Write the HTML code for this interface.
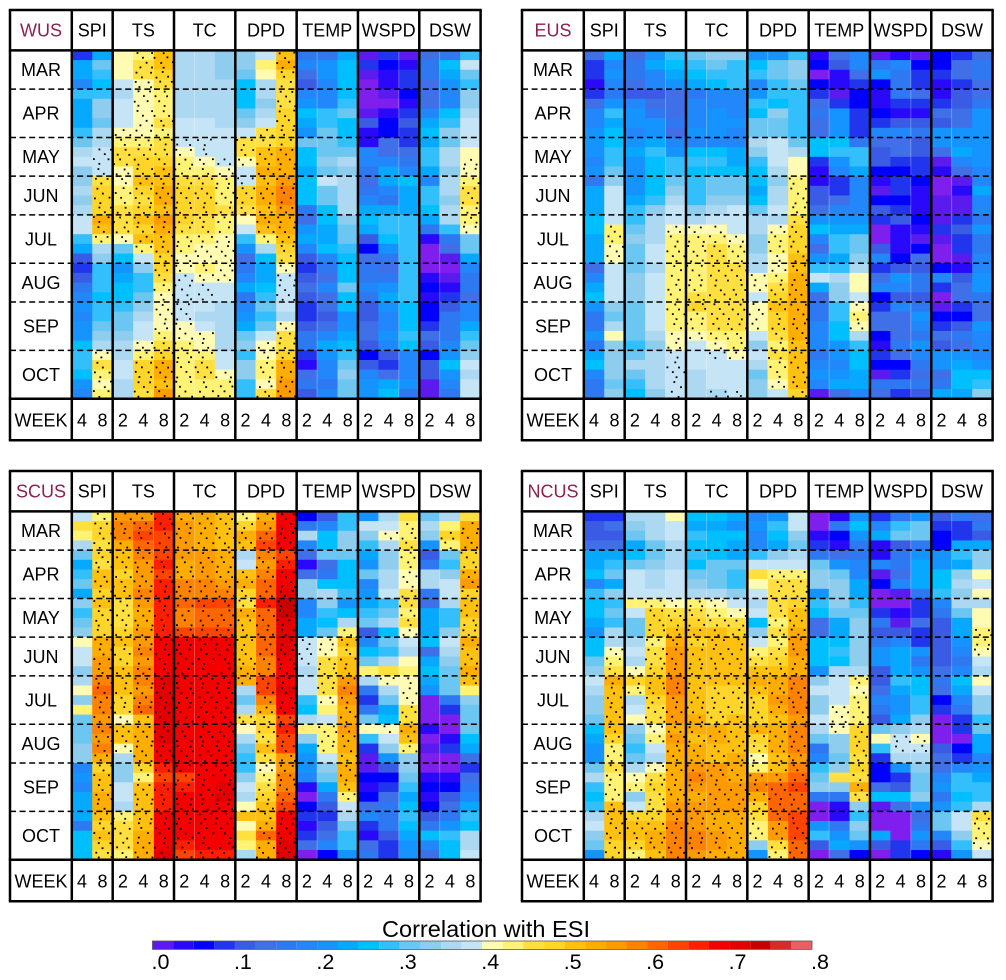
<!DOCTYPE html>
<html lang="en">
<head>
<meta charset="utf-8">
<title>Correlation with ESI</title>
<style>
html,body{margin:0;padding:0;background:#fff;}
svg{display:block;font-family:"Liberation Sans",sans-serif;}
</style>
</head>
<body>
<svg id="chart" xmlns="http://www.w3.org/2000/svg" width="1006" height="980" viewBox="0 0 1006 980"></svg>
<script>
/* Values are colour-bin levels of the correlation: level L means [L*0.025, (L+1)*0.025); -1 is below zero. */
const months = ["MAR","APR","MAY","JUN","JUL","AUG","SEP","OCT"];
const monthWeeks = [4,5,4,4,5,4,5,5];
const variables = ["SPI","TS","TC","DPD","TEMP","WSPD","DSW"];
const variableLeads = [[4,8],[2,4,8],[2,4,8],[2,4,8],[2,4,8],[2,4,8],[2,4,8]];
const colorbarTicks = [".0",".1",".2",".3",".4",".5",".6",".7",".8"];

const wusValues = [
[3,9,9,7,11,9,9,9,11,12,14,15,13,13,14,13,14,15,15,11,9,4,3,4,6,7,8,7,8,8,10,11,11,10,8,7],
[9,12,11,10,11,13,13,12,14,14,15,15,15,18,19,19,19,21,20,17,14,13,11,11,11,10,11,11,12,13,14,16,18,17,16,17],
[16,16,16,15,14,15,15,15,16,17,18,18,16,16,17,17,18,18,18,16,12,10,8,9,10,10,11,12,12,13,14,14,15,15,14,14],
[17,18,18,16,16,16,16,16,16,17,18,19,19,20,19,18,19,20,19,20,17,15,13,11,11,12,13,14,15,15,16,17,19,19,19,18],
[20,20,19,18,17,17,17,18,17,18,18,19,20,20,21,21,20,22,21,20,20,19,19,18,17,16,16,16,16,17,18,19,21,21,20,22],
[14,14,14,14,14,14,14,15,15,15,16,17,17,18,19,19,19,19,18,17,17,16,16,15,15,15,15,15,16,16,17,17,17,17,17,17],
[14,14,14,14,14,14,14,15,15,15,15,16,17,18,19,19,19,18,18,17,16,16,17,16,15,15,15,14,15,16,16,17,18,18,17,17],
[13,13,13,14,14,14,14,14,15,15,15,15,16,17,17,17,18,17,17,16,16,16,16,16,15,15,14,14,14,14,14,15,15,16,17,17],
[13,13,12,10,10,10,12,13,15,18,18,16,15,15,19,19,18,16,15,11,8,5,6,7,9,6,7,8,9,12,13,11,13,13,11,11],
[15,17,16,14,14,13,14,15,18,18,20,20,21,20,21,21,20,21,20,17,14,10,9,9,10,11,12,11,12,15,16,16,17,17,16,18],
[20,21,19,18,18,18,19,19,19,19,21,21,21,22,23,23,22,21,21,20,19,18,16,15,15,15,15,14,16,18,18,19,21,21,22,22],
[6,7,5,4,7,8,10,9,8,12,10,10,9,10,10,10,6,5,8,9,7,4,3,4,5,4,3,3,4,6,6,3,1,5,6,4],
[6,8,8,7,7,7,11,11,12,12,12,13,12,15,12,12,10,10,9,9,10,7,6,5,7,5,5,4,5,7,9,8,7,7,6,7],
[9,10,10,10,10,11,12,10,10,11,12,14,13,14,14,14,14,13,12,12,11,10,10,10,12,10,10,8,8,9,10,11,12,13,12,12],
[0,3,0,-1,-1,-1,0,4,1,1,7,7,6,5,6,7,9,10,9,4,2,5,6,6,7,6,4,4,5,5,4,2,4,7,8,8],
[3,2,1,1,0,-1,1,2,2,5,5,7,9,9,7,6,9,11,11,10,8,6,5,6,8,9,8,7,7,8,7,4,3,5,9,10],
[0,1,3,3,2,1,3,4,3,3,5,6,7,10,9,9,9,11,11,11,11,11,11,11,11,11,10,10,10,11,10,7,7,7,8,6],
[5,6,6,5,5,5,7,9,10,9,11,11,9,7,11,11,10,9,6,1,-1,-1,-1,1,2,1,2,2,3,5,4,2,4,4,0,0],
[6,10,9,8,7,7,10,11,13,12,14,14,13,14,14,13,14,14,11,6,5,0,-1,0,1,3,4,6,6,6,7,8,10,8,7,6],
[11,15,12,11,13,13,14,15,15,15,16,16,16,17,18,18,17,17,16,12,12,9,7,6,6,5,7,7,9,11,12,13,15,14,15,15]
];
const eusValues = [
[5,3,3,1,3,5,7,7,8,8,8,7,8,6,9,9,9,10,10,9,9,9,5,7,9,10,8,6,6,8,6,9,10,7,6,6],
[9,7,8,7,6,8,11,9,10,10,11,11,12,13,15,15,15,15,17,17,16,16,15,15,15,15,13,12,14,16,13,13,13,13,12,13],
[5,6,6,5,4,7,8,8,7,8,9,8,8,8,8,9,11,11,12,13,12,12,12,13,13,13,12,12,12,12,11,12,14,12,11,10],
[8,9,7,7,4,5,6,8,8,9,11,10,10,10,10,11,13,14,14,14,15,15,14,15,15,15,15,15,15,14,13,14,14,14,14,13],
[11,10,9,8,5,5,5,6,5,7,8,11,11,12,13,14,15,15,16,17,17,17,17,17,17,17,17,17,17,16,16,15,15,15,15,15],
[12,11,10,9,6,7,7,7,8,7,10,11,10,11,11,11,13,14,16,17,17,17,17,17,17,18,19,17,17,16,15,15,15,14,14,14],
[13,12,11,10,7,7,8,8,8,7,10,11,10,12,12,13,14,15,16,17,18,18,18,18,18,18,18,18,18,17,16,15,15,15,15,14],
[13,11,11,11,7,7,7,8,7,7,9,9,10,12,12,13,15,15,15,16,17,17,18,18,18,18,18,18,18,17,17,16,15,15,15,15],
[8,10,11,7,8,11,10,12,12,14,13,11,10,10,9,10,12,14,14,13,13,14,14,16,16,15,16,16,16,15,13,15,14,12,13,13],
[8,12,12,11,11,10,13,12,12,15,15,15,14,13,14,14,15,14,16,17,17,16,16,17,18,19,20,19,19,18,17,18,17,17,16,15],
[11,13,13,12,11,11,11,11,11,12,14,16,16,17,17,17,17,18,19,19,19,20,20,21,21,21,21,21,21,21,20,20,20,20,20,19],
[1,2,-1,2,3,5,6,5,5,10,10,3,1,1,4,4,5,8,10,7,5,8,11,15,9,5,6,6,7,7,7,6,7,8,7,0],
[5,4,1,1,0,3,8,8,8,10,11,8,7,3,3,5,7,8,9,11,11,9,11,14,13,13,11,11,10,10,8,8,7,8,9,5],
[7,7,5,3,2,2,3,3,3,6,11,11,9,7,7,7,7,8,9,12,12,13,14,16,16,15,16,17,16,14,11,10,10,9,9,7],
[0,6,8,2,1,1,2,3,7,5,4,4,2,1,0,2,4,3,-1,-1,4,7,3,5,7,2,3,5,5,2,1,3,2,0,6,5],
[1,7,6,6,6,3,1,4,7,5,5,3,2,3,3,2,3,4,1,1,1,2,4,8,7,4,7,5,5,5,6,5,2,3,6,3],
[0,2,3,3,5,3,1,4,6,4,4,3,3,2,1,1,1,2,1,0,2,5,4,6,6,4,6,8,7,6,8,7,6,5,6,4],
[2,2,3,1,1,3,5,4,8,8,5,0,1,-1,-1,0,0,0,3,0,-1,-1,2,7,3,-1,0,2,3,5,4,8,8,5,6,9],
[3,5,5,3,4,4,5,5,8,8,9,7,5,0,1,0,0,3,4,3,3,0,1,4,5,5,3,2,4,6,5,8,9,10,10,9],
[5,6,6,5,5,6,8,8,8,8,8,8,7,7,9,7,7,6,8,6,6,7,7,8,8,6,5,5,8,7,7,7,8,10,11,13]
];
const scusValues = [
[15,18,17,14,12,9,11,12,9,13,11,12,13,16,15,15,13,14,16,13,17,12,12,12,13,13,7,8,7,9,9,9,6,10,10,10],
[17,19,19,18,19,18,20,20,19,20,19,19,19,21,21,22,22,23,24,23,23,22,23,22,23,21,19,20,20,21,21,20,19,20,19,18],
[22,23,23,21,20,20,19,20,20,18,18,18,19,20,19,19,20,20,20,19,19,16,20,20,16,14,13,13,15,15,14,17,18,18,18,17],
[22,24,25,24,23,22,22,22,23,22,21,21,22,22,23,22,23,23,22,23,24,20,21,21,21,21,19,17,20,20,20,20,20,21,21,21],
[26,26,25,25,25,26,25,26,26,26,26,26,26,27,27,27,27,28,28,28,28,28,28,28,27,27,26,25,26,26,26,27,27,27,27,28],
[21,22,22,22,22,21,21,23,23,24,23,23,25,27,27,27,27,27,27,27,27,27,27,27,27,27,27,25,26,27,27,27,27,27,26,25],
[21,21,21,21,22,22,22,23,23,25,24,24,25,27,27,27,27,27,27,27,27,27,27,27,27,27,27,27,27,27,27,27,27,27,27,26],
[20,20,20,20,21,21,21,22,23,25,24,24,25,27,27,27,27,27,27,27,27,27,27,27,27,27,27,27,28,28,27,27,27,27,27,26],
[17,19,21,20,14,15,20,21,19,18,21,20,20,20,20,20,21,21,14,12,14,18,16,14,12,11,11,13,15,14,16,20,16,18,17,14],
[21,22,24,25,23,22,23,24,24,26,24,24,24,24,24,23,23,25,25,23,21,19,19,18,20,18,16,17,18,19,20,20,21,24,21,21],
[27,27,27,27,25,26,27,27,28,29,29,28,28,28,28,27,27,27,28,27,27,25,26,25,25,22,22,23,23,24,25,27,27,27,28,28],
[2,6,14,7,5,1,5,13,13,7,7,9,9,15,15,15,14,15,15,11,10,14,17,13,9,8,8,7,1,-1,2,3,1,3,5,-1],
[4,7,10,10,12,5,6,10,14,13,11,10,12,16,16,18,18,18,18,16,17,15,17,17,17,15,13,12,9,6,4,3,4,5,7,2],
[11,11,13,13,12,10,10,10,11,8,10,14,17,20,19,20,20,22,23,22,21,21,22,21,21,20,21,21,20,17,15,14,12,11,11,8],
[8,15,13,11,9,8,12,7,8,9,11,12,4,7,10,12,17,14,6,3,6,12,16,11,3,0,0,2,1,2,5,7,3,1,5,6],
[14,15,16,14,13,13,14,14,15,11,12,14,10,12,11,14,18,16,14,12,9,10,16,15,13,8,4,2,3,5,6,6,6,4,3,3],
[18,17,17,18,17,17,16,16,18,18,17,18,16,15,14,16,17,16,16,16,18,18,21,20,17,13,13,12,11,9,10,11,10,9,8,8],
[12,14,13,8,4,6,14,14,6,5,9,9,9,10,5,9,10,9,8,-1,-1,-1,1,-1,0,-1,-1,1,2,1,2,4,6,10,7,5],
[14,17,19,17,12,11,13,15,15,14,11,11,13,15,14,13,12,12,12,6,3,-1,-1,1,3,-1,-1,1,2,4,5,6,8,11,10,10],
[18,21,21,21,19,19,21,22,19,20,20,19,19,21,20,20,21,20,17,13,12,12,12,10,9,5,3,5,6,7,9,11,10,14,14,15]
];
const ncusValues = [
[3,4,4,5,9,9,10,7,11,10,10,9,8,10,10,12,13,15,14,13,13,12,10,9,8,8,12,14,11,10,11,14,15,13,12,8],
[3,5,4,5,9,11,12,9,13,11,12,11,14,14,16,17,18,21,20,20,20,20,20,19,17,17,18,17,17,17,20,20,20,20,19,19],
[14,13,12,9,10,12,15,15,15,17,15,12,12,14,15,14,16,19,17,14,15,16,13,12,11,12,14,16,17,13,15,19,20,20,19,17],
[14,14,14,12,12,13,14,14,15,17,19,19,19,17,18,18,19,20,20,19,18,18,16,17,15,14,16,18,19,18,18,19,20,21,21,20],
[16,15,15,14,14,14,15,15,15,16,18,19,20,21,22,22,22,23,23,22,22,22,21,22,21,21,21,21,21,21,22,22,23,23,23,23],
[10,9,11,10,11,10,12,13,14,17,18,19,20,19,20,20,20,20,20,20,20,21,21,20,21,21,22,23,22,21,22,22,22,23,23,22],
[10,9,10,10,10,12,12,12,14,16,17,18,20,20,20,20,20,20,19,19,19,19,21,21,20,20,22,22,22,22,22,21,21,22,22,21],
[9,8,10,9,9,12,11,11,13,15,16,18,19,20,20,20,20,20,19,19,19,20,20,20,20,21,21,21,22,22,22,21,21,21,21,21],
[7,8,7,7,11,15,18,16,15,14,15,10,13,15,17,18,20,21,20,19,19,19,21,19,18,16,17,22,23,21,19,18,17,17,13,8],
[8,11,10,9,13,15,17,18,18,18,18,17,18,17,18,19,20,21,21,22,21,20,21,21,21,20,20,22,24,24,24,24,22,22,18,17],
[15,15,13,12,14,15,17,18,18,19,20,20,21,22,22,21,21,23,23,23,23,22,23,23,23,22,23,24,25,24,24,25,25,25,24,24],
[-1,-1,1,3,6,12,13,13,8,11,10,5,5,10,10,10,8,13,15,13,13,15,14,12,6,7,11,12,13,6,-1,-1,8,11,4,-1],
[1,6,2,1,5,8,12,13,13,13,12,9,9,10,11,10,14,15,15,15,16,16,16,13,13,12,13,18,13,6,1,1,6,8,9,5],
[8,10,8,6,6,7,7,9,9,11,12,13,13,13,13,13,14,17,16,17,17,17,19,19,19,18,19,18,21,18,13,11,13,12,8,2],
[3,7,9,1,1,7,0,2,-1,-1,3,6,4,6,8,8,4,4,5,7,6,4,12,16,11,3,2,2,5,10,0,-1,-1,9,4,-1],
[6,11,12,4,6,6,5,7,0,-1,1,0,4,7,9,9,9,11,9,8,8,9,13,15,15,14,8,3,4,10,5,-1,-1,-1,3,3],
[8,12,12,6,8,9,9,9,6,3,3,5,3,3,8,6,8,10,10,11,11,13,14,16,15,14,13,12,12,13,8,5,6,8,6,2],
[4,3,2,2,8,8,10,10,11,7,6,4,4,4,4,4,5,6,5,2,3,-1,-1,-1,4,5,5,7,8,6,8,12,12,7,4,1],
[6,3,3,9,11,9,13,14,13,14,12,9,9,8,7,6,7,10,9,7,6,3,3,-1,2,3,7,11,11,10,11,15,15,13,11,8],
[5,6,4,9,13,13,16,15,16,14,16,16,17,17,16,15,14,16,15,13,13,11,12,9,9,7,8,9,11,11,14,18,17,17,16,15]
];
/* Cells whose significance differs from the default (level >= 16 is stippled): [column, week]. */
const wusStippleFlips = [[1,10],[1,11],[1,12],[5,9],[5,23],[5,24],[5,25],[5,26],[5,27],[6,9],[6,10],[6,24],[6,25],[7,11],[10,23],[10,24],[10,25],[8,13],[2,0],[2,1],[2,2],[9,1],[9,2],[8,17],[19,10]];
const eusStippleFlips = [[4,31],[4,32],[4,33],[4,34],[4,35],[6,31],[6,35],[7,35],[1,29],[10,11],[10,12],[13,23],[13,24]];
const scusStippleFlips = [[11,13],[11,14],[11,15],[0,1],[0,2],[0,13],[0,18],[0,20],[8,22],[8,30],[8,31],[8,32],[8,33],[8,34],[14,16],[14,22],[15,16],[16,0],[16,15],[16,16],[18,1],[19,0],[19,18],[12,20],[11,22]];
const ncusStippleFlips = [[4,0],[2,9],[2,21],[14,23],[15,23],[15,24],[16,24],[12,27],[19,6],[19,8],[19,10],[19,11],[19,17],[8,6],[8,7]];

const levelColors = ["#5B1BEF","#2A08FA","#0000FF","#2136EC","#3A5CE4","#4070E8","#2E78F2","#2287FB","#1594FF","#07A8FF","#00BFFF","#33BFFB","#6CC6F2","#8FCDEE","#ACD8F2","#C5E4F6","#FFFBB3","#FFF275","#FFE040","#FFD52A","#FFC010","#FFAE00","#FF9A00","#FF8200","#FF6600","#FF4400","#FF1E00","#F50000","#E20000","#C80000","#D42C2C","#E86060"];
const belowColor = "#7F1FEE";
const seamColumns = [4,6,9,12,16,18];

const NS = "http://www.w3.org/2000/svg";
const svg = document.getElementById("chart");
const COL_W = 20.44, ROW_H = 9.675, LABEL_W = 61.8, HEAD_H = 40.4, WEEK_H = 41.6, HEAT_ROWS = 36, HEAT_COLS = 20;
const DOT_DX = 13, DOT_DY = ROW_H / 2, DOT_SIZE = 1.8, RULE_W = 2.5;

function make(parent, tag, attrs) {
  const el = document.createElementNS(NS, tag);
  for (const k in attrs) el.setAttribute(k, attrs[k]);
  parent.appendChild(el);
  return el;
}
function colorFor(level) {
  return level < 0 ? belowColor : levelColors[Math.min(level, levelColors.length - 1)];
}
function textAt(parent, x, y, str, name, anchor, size, fill) {
  const t = make(parent, "text", {x: x, y: y, "text-anchor": anchor, "font-size": size, fill: fill});
  
  
  t.textContent = str;
  return t;
}

function drawPanel(regionName, values, flips, ox, oy) {
  const key = regionName.toLowerCase();
  const g = make(svg, "g", {});
  
  
  const left = ox + LABEL_W, top = oy + HEAD_H;
  const xOf = c => left + c * COL_W;
  const yOf = r => top + r * ROW_H;
  const flipSet = new Set(flips.map(f => f[0] + ":" + f[1]));

  for (let c = 0; c < values.length; c++) {
    for (let r = 0; r < values[c].length; r++) {
      const cell = make(g, "rect", {
        x: xOf(c), y: yOf(r),
        width: COL_W + (c < HEAT_COLS - 1 ? 0.5 : 0),
        height: ROW_H + (r < HEAT_ROWS - 1 ? 0.5 : 0),
        fill: colorFor(values[c][r])
      });
      
      
    }
  }
  /* faint white seams that appear inside each variable group */
  seamColumns.forEach(c => {
    const seam = make(g, "line", {x1: xOf(c), x2: xOf(c), y1: top, y2: yOf(HEAT_ROWS), stroke: "#fff", "stroke-width": 0.7, "stroke-opacity": 0.4});
    
    
  });
  /* stippling: a staggered lattice, kept only where the underlying cell is significant */
  const subRows = HEAT_ROWS * 2;
  for (let j = 0; j < subRows; j++) {
    const r = Math.floor(j / 2);
    const cols = Math.ceil(HEAT_COLS * COL_W / DOT_DX) + 1;
    for (let i = 0; i < cols; i++) {
      const h = ((i + 3) * 7919 + (j + 5) * 104729 + ox * 31 + oy * 17) % 9973;
      const dx = (i + (j % 4) * 0.37) * DOT_DX + ((h % 30) / 10 - 1.5);
      const c = Math.floor(dx / COL_W);
      if (dx < 1 || c >= HEAT_COLS) continue;
      if (dx - c * COL_W > COL_W - DOT_SIZE) continue;
      if (!values[c]) continue;
      const sig = (values[c][r] >= 16) !== flipSet.has(c + ":" + r);
      if (!sig) continue;
      const dy = (j + 0.35) * DOT_DY + ((h >> 4) % 10) / 10 - 0.5;
      const dot = make(g, "rect", {x: left + dx, y: top + dy, width: DOT_SIZE, height: DOT_SIZE, fill: "#000"});
      
      
    }
  }
  /* month separators and labels */
  let acc = 0;
  months.forEach((m, i) => {
    const centre = yOf(acc + monthWeeks[i] / 2);
    textAt(g, ox + 31, centre + 6.3, m, 'month-label-' + m.toLowerCase(), "middle", 18, "#000");
    acc += monthWeeks[i];
    if (i < months.length - 1) {
      const sep = make(g, "line", {x1: ox, x2: xOf(HEAT_COLS), y1: yOf(acc), y2: yOf(acc), stroke: "#000", "stroke-width": 1.5, "stroke-dasharray": "6 3.6"});
      
      
    }
  });
  /* frame */
  const right = xOf(HEAT_COLS), bottom = yOf(HEAT_ROWS) + WEEK_H;
  [oy, top, yOf(HEAT_ROWS), bottom].forEach(y => {
    const ln = make(g, "line", {x1: ox - 1.2, x2: right + 1.2, y1: y, y2: y, stroke: "#000", "stroke-width": RULE_W});
    
    
  });
  const fl = make(g, "line", {x1: ox, x2: ox, y1: oy, y2: bottom, stroke: "#000", "stroke-width": RULE_W});
  
  
  textAt(g, ox + 31, oy + 26.6, regionName, 'region-label', "middle", 18, "#8B2252");
  textAt(g, ox + 31, yOf(HEAT_ROWS) + 28, "WEEK", 'week-label', "middle", 18, "#000");
  let col = 0;
  variables.forEach((v, i) => {
    const leads = variableLeads[i];
    const vl = make(g, "line", {x1: xOf(col), x2: xOf(col), y1: oy, y2: bottom, stroke: "#000", "stroke-width": RULE_W});
    
    
    textAt(g, xOf(col + leads.length / 2), oy + 26.6, v, 'variable-header-' + v.toLowerCase(), "middle", 18, "#000");
    leads.forEach((w, j) => {
      textAt(g, xOf(col + j + 0.5), yOf(HEAT_ROWS) + 28, String(w), 'lead-label-' + w, "middle", 18, "#000");
    });
    col += leads.length;
  });
  const rl = make(g, "line", {x1: right, x2: right, y1: oy, y2: bottom, stroke: "#000", "stroke-width": RULE_W});
  
  
}

drawPanel("WUS", wusValues, wusStippleFlips, 10, 10);
drawPanel("EUS", eusValues, eusStippleFlips, 522, 10);
drawPanel("SCUS", scusValues, scusStippleFlips, 10, 471);
drawPanel("NCUS", ncusValues, ncusStippleFlips, 522, 471);

/* colour bar */
const barLeft = 152.5, barWidth = 659.5, barTop = 941, barHeight = 8.4;
const cb = make(svg, "g", {});


const barX = level => barLeft + level * barWidth / levelColors.length;
levelColors.forEach((col, i) => {
  const box = make(cb, "rect", {x: barX(i), y: barTop, width: barWidth / levelColors.length, height: barHeight, fill: col});
  
  
});
const cbFrame = make(cb, "rect", {x: barLeft, y: barTop, width: barWidth, height: barHeight, fill: "none", stroke: "#555", "stroke-width": 0.8});


colorbarTicks.forEach((t, i) => {
  textAt(cb, barX(i * 4) - 1, 969, t, 'colorbar-tick', "start", 21.5, "#000");
});
const cbTitle = textAt(cb, 486, 937, "Correlation with ESI", 'colorbar-title', "middle", 23, "#000");
cbTitle.setAttribute("textLength", "208");
cbTitle.setAttribute("lengthAdjust", "spacingAndGlyphs");
</script>
</body>
</html>
